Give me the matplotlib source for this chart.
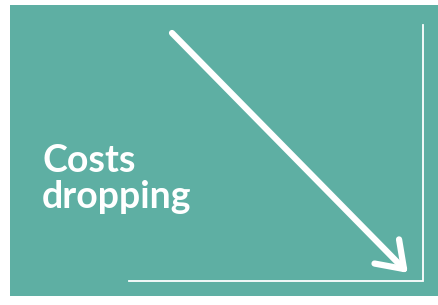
# Costs dropping schematic
import numpy as np
import matplotlib.pyplot as plt

W, H = 438, 305
teal = '#5EAFA3'

# panel and axis lines (pixel coordinates, y down)
panel = [10, 5, 428, 291]          # x, y, width, height
axis_x = [129, 423, 423]
axis_y = [281, 281, 25]

# arrow start and tip
arrow_start = (172, 33)
arrow_tip = (404, 269)
head_len = 30
head_angle = 35

label = 'Costs\ndropping'

fig = plt.figure(figsize=(W / 100, H / 100), dpi=100)
ax = fig.add_axes([0, 0, 1, 1])
ax.set_xlim(0, W)
ax.set_ylim(H, 0)
ax.axis('off')

ax.add_patch(plt.Rectangle((panel[0], panel[1]), panel[2], panel[3],
                           color=teal, lw=0))

ax.plot(axis_x, axis_y, color='white', lw=1.3, solid_joinstyle='miter')

# shaft
ax.plot([arrow_start[0], arrow_tip[0]], [arrow_start[1], arrow_tip[1]],
        color='white', lw=4.5, solid_capstyle='round')
# open head
ang = np.arctan2(arrow_tip[1] - arrow_start[1], arrow_tip[0] - arrow_start[0])
for s in (1, -1):
    a = ang + np.pi + s * np.radians(head_angle)
    ax.plot([arrow_tip[0], arrow_tip[0] + head_len * np.cos(a)],
            [arrow_tip[1], arrow_tip[1] + head_len * np.sin(a)],
            color='white', lw=4.5, solid_capstyle='round')

ax.text(42, 179, label, color='white', fontsize=27, fontweight='bold',
        family='Lato', va='center', ha='left', linespacing=1.05)

fig.savefig('out.png', dpi=100)
